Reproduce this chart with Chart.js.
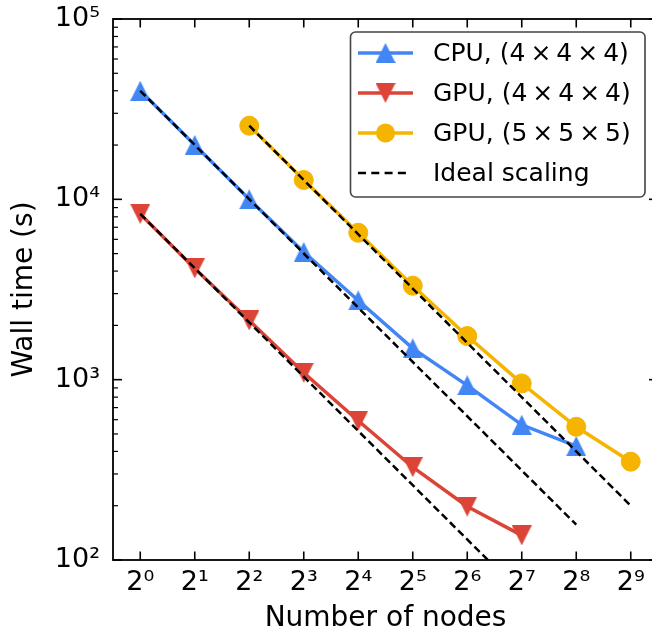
<!DOCTYPE html>
<html>
<head>
<meta charset="utf-8">
<script src="https://cdn.jsdelivr.net/npm/chart.js@4/dist/chart.umd.min.js"></script>
<style>
  html, body { margin: 0; padding: 0; background: #fff; overflow: hidden; }
  #wrap { width: 652px; height: 632px; overflow: hidden; }
  #c { display: block; }
</style>
</head>
<body>
<div id="wrap"><canvas id="c" width="658" height="632" style="width:658px;height:632px"></canvas></div>
<script>
// ---- data ----
const xLabels = ['2\u2070', '2\u00B9', '2\u00B2', '2\u00B3', '2\u2074', '2\u2075', '2\u2076', '2\u2077', '2\u2078', '2\u2079'];
const cpu444 = [40000, 20000, 10000, 5100, 2750, 1490, 930, 562, 428, null];
const gpu444 = [8300, 4140, 2130, 1092, 592, 327, 198, 137, null, null];
const gpu555 = [null, null, 25600, 12800, 6530, 3320, 1746, 953, 548, 351];
const idealCpu = [40000, null, null, null, null, null, null, null, 157, null];
const idealGpu444 = [8300, null, null, null, null, null, null, 65, null, null];
const idealGpu555 = [null, null, 25600, null, null, null, null, null, null, 200];
const yTickValues = [100, 1000, 10000, 100000];
const yTickLabels = ['10\u00B2', '10\u00B3', '10\u2074', '10\u2075'];
const seriesNames = ['CPU, (4\u2009\u00D7\u20094\u2009\u00D7\u20094)', 'GPU, (4\u2009\u00D7\u20094\u2009\u00D7\u20094)', 'GPU, (5\u2009\u00D7\u20095\u2009\u00D7\u20095)', 'Ideal scaling'];

const BLUE = '#4285F4', RED = '#DB4437', YELLOW = '#F4B400';
const FONT = 'DejaVu Sans';

function triCanvas(color, down, size) {
  const c = document.createElement('canvas');
  c.width = size; c.height = size;
  const g = c.getContext('2d');
  g.fillStyle = color;
  g.beginPath();
  if (!down) { g.moveTo(size / 2, 0); g.lineTo(size, size); g.lineTo(0, size); }
  else { g.moveTo(0, 0); g.lineTo(size, 0); g.lineTo(size / 2, size); }
  g.closePath(); g.fill();
  return c;
}
const triUp = triCanvas(BLUE, false, 20);
const triDown = triCanvas(RED, true, 20);

function dataLine(label, data, color, style, order) {
  return {
    label, data, borderColor: color, backgroundColor: color,
    borderWidth: 3.5, pointStyle: style, pointRadius: 9.5,
    pointBackgroundColor: color, pointBorderColor: color, pointBorderWidth: style === 'circle' ? 1 : 0,
    pointHoverRadius: 9.5, tension: 0, fill: false, order
  };
}
function idealLine(label, data) {
  return {
    label, data, borderColor: '#000', backgroundColor: '#000', borderWidth: 2.5,
    borderDash: [7.5, 4], pointRadius: 0, pointHoverRadius: 0, spanGaps: true,
    tension: 0, fill: false, order: 0
  };
}

const yMinorFactors = [2, 3, 4, 5, 6, 7, 8, 9];

const axesPlugin = {
  id: 'mplAxes',
  afterDraw(chart) {
    const { ctx, chartArea: a, scales: { x, y } } = chart;
    ctx.save();
    ctx.strokeStyle = '#000';
    const seg = (x1, y1, x2, y2) => { ctx.beginPath(); ctx.moveTo(x1, y1); ctx.lineTo(x2, y2); ctx.stroke(); };
    ctx.lineWidth = 1.6;
    x.ticks.forEach((t, i) => {
      const px = x.getPixelForTick(i);
      seg(px, a.bottom, px, a.bottom - 8.5);
      seg(px, a.top, px, a.top + 8.5);
    });
    yTickValues.forEach(v => {
      const py = y.getPixelForValue(v);
      seg(a.left, py, a.left + 9, py);
      seg(a.right, py, a.right - 9, py);
    });
    ctx.lineWidth = 1.2;
    for (let k = 0; k < yTickValues.length - 1; k++) {
      yMinorFactors.forEach(f => {
        const py = y.getPixelForValue(yTickValues[k] * f);
        seg(a.left, py, a.left + 5, py);
        seg(a.right, py, a.right - 5, py);
      });
    }
    ctx.lineWidth = 1.8;
    ctx.strokeRect(a.left, a.top, a.right - a.left, a.bottom - a.top);

    // legend
    const bx = 350.5, by = 32, bw = 294.5, bh = 165, r = 5;
    ctx.beginPath();
    ctx.moveTo(bx + r, by); ctx.lineTo(bx + bw - r, by); ctx.arcTo(bx + bw, by, bx + bw, by + r, r);
    ctx.lineTo(bx + bw, by + bh - r); ctx.arcTo(bx + bw, by + bh, bx + bw - r, by + bh, r);
    ctx.lineTo(bx + r, by + bh); ctx.arcTo(bx, by + bh, bx, by + bh - r, r);
    ctx.lineTo(bx, by + r); ctx.arcTo(bx, by, bx + r, by, r); ctx.closePath();
    ctx.fillStyle = 'rgba(255,255,255,0.85)'; ctx.fill();
    ctx.strokeStyle = '#444'; ctx.lineWidth = 1.6; ctx.stroke();

    const ds = chart.data.datasets;
    const entries = [ds[0], ds[1], ds[2], ds[3]];
    const rowY = [53, 93, 133, 173];
    const hx0 = 358, hx1 = 413, hxm = 385.5, tx = 433;
    ctx.font = '25px "' + FONT + '"';
    ctx.textBaseline = 'middle';
    ctx.textAlign = 'left';
    entries.forEach((d, i) => {
      const yy = rowY[i];
      ctx.save();
      ctx.strokeStyle = d.borderColor;
      ctx.lineWidth = d.borderWidth;
      if (d.borderDash) ctx.setLineDash([8, 5.3]);
      seg(hx0, yy, d.borderDash ? hx0 + 8 * 4 + 5.3 * 3 : hx1, yy);
      ctx.restore();
      if (d.pointRadius > 0) {
        if (d.pointStyle === 'circle') {
          ctx.beginPath(); ctx.arc(hxm, yy, 9.5, 0, Math.PI * 2);
          ctx.fillStyle = d.pointBackgroundColor; ctx.fill();
        } else {
          const im = d.pointStyle;
          ctx.drawImage(im, hxm - im.width / 2, yy - im.height / 2);
        }
      }
      ctx.fillStyle = '#000';
      ctx.fillText(d.label, tx, yy + 1);
    });
    ctx.restore();
  }
};

Chart.defaults.font.family = FONT;
Chart.defaults.color = '#000';

new Chart(document.getElementById('c'), {
  type: 'line',
  data: {
    labels: xLabels,
    datasets: [
      dataLine(seriesNames[0], cpu444, BLUE, triUp, 3),
      dataLine(seriesNames[1], gpu444, RED, triDown, 2),
      dataLine(seriesNames[2], gpu555, YELLOW, 'circle', 1),
      idealLine(seriesNames[3], idealCpu),
      idealLine('', idealGpu444),
      idealLine('', idealGpu555)
    ]
  },
  options: {
    responsive: false,
    animation: false,
    events: [],
    layout: { autoPadding: false, padding: { left: 0, top: 19, right: 0, bottom: 0 } },
    plugins: { legend: { display: false }, tooltip: { enabled: false } },
    scales: {
      x: {
        type: 'category',
        offset: true,
        grid: { display: false, drawTicks: false },
        border: { display: false },
        ticks: { font: { size: 27 }, padding: 7, maxRotation: 0, autoSkip: false },
        title: { display: true, text: 'Number of nodes', font: { size: 28 }, padding: { top: 0, bottom: -4 } },
        afterFit: s => { s.height = 72; s.paddingLeft = 0; s.paddingRight = 0; }
      },
      y: {
        type: 'logarithmic',
        min: 100, max: 100000,
        grid: { display: false, drawTicks: false },
        border: { display: false },
        afterBuildTicks: s => { s.ticks = yTickValues.map(v => ({ value: v })); },
        ticks: {
          font: { size: 27 }, padding: 13, autoSkip: false,
          callback: (v) => { const i = yTickValues.indexOf(v); return i >= 0 ? yTickLabels[i] : ''; }
        },
        title: { display: true, text: 'Wall time (s)', font: { size: 28 }, padding: { top: 8, bottom: 0 } },
        afterFit: s => { s.width = 113; s.paddingTop = 0; s.paddingBottom = 0; }
      }
    }
  },
  plugins: [axesPlugin]
});
</script>
</body>
</html>
